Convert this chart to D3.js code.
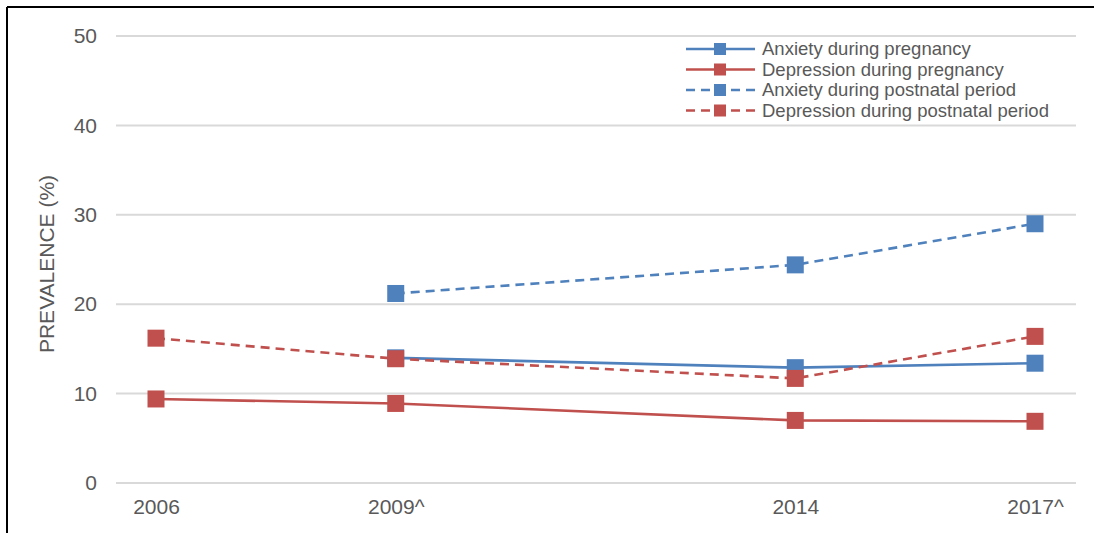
<!DOCTYPE html>
<html>
<head>
<meta charset="utf-8">
<script src="https://cdn.jsdelivr.net/npm/d3@7"></script>
<style>
  html, body { margin: 0; padding: 0; background: #fff; }
  svg { display: block; font-family: "Liberation Sans", Arial, sans-serif; }
</style>
</head>
<body>
<svg id="chart" width="1094" height="533"></svg>
<script>
// Survey years and prevalence (%) for each series
const years = [2006, 2009, 2014, 2017];
const yearLabels = ["2006", "2009^", "2014", "2017^"];
const anxietyPregnancy = [null, 14.0, 12.9, 13.4];
const depressionPregnancy = [9.4, 8.9, 7.0, 6.9];
const anxietyPostnatal = [null, 21.2, 24.4, 29.0];
const depressionPostnatal = [16.2, 13.9, 11.7, 16.4];
const yTicks = [0, 10, 20, 30, 40, 50];

const seriesNames = [
  "Anxiety during pregnancy",
  "Depression during pregnancy",
  "Anxiety during postnatal period",
  "Depression during postnatal period"
];

const BLUE = "#4F81BD", RED = "#C0504D";
const TEXT = "#595959";
const series = [
  { name: seriesNames[0], values: anxietyPregnancy, color: BLUE, dashed: false },
  { name: seriesNames[1], values: depressionPregnancy, color: RED, dashed: false },
  { name: seriesNames[2], values: anxietyPostnatal, color: BLUE, dashed: true },
  { name: seriesNames[3], values: depressionPostnatal, color: RED, dashed: true }
];

const svg = d3.select("#chart");

// Frame lines along the top and left edges
svg.append("line").attr("x1", 7).attr("x2", 1094).attr("y1", 7).attr("y2", 7)
  .attr("stroke", "#000").attr("stroke-width", 2);
svg.append("line").attr("x1", 7).attr("x2", 7).attr("y1", 7).attr("y2", 533)
  .attr("stroke", "#000").attr("stroke-width", 2);

const x = d3.scaleLinear().domain([2006, 2017]).range([156, 1035]);
const y = d3.scaleLinear().domain([0, 50]).range([483, 36]);
const gridLeft = 116, gridRight = 1076;

// Horizontal gridlines
svg.append("g").selectAll("line").data(yTicks).join("line")
  .attr("x1", gridLeft).attr("x2", gridRight)
  .attr("y1", d => y(d)).attr("y2", d => y(d))
  .attr("stroke", "#D9D9D9").attr("stroke-width", 2);

// Y axis tick labels
const yAxis = d3.axisLeft(y).tickValues(yTicks).tickSize(0).tickPadding(0);
svg.append("g").attr("transform", "translate(97,0)").call(yAxis)
  .call(g => g.select(".domain").remove())
  .call(g => g.selectAll("text").attr("fill", TEXT)
    .style("font-size", "21px").style("font-family", "Liberation Sans, Arial, sans-serif"));

// X axis tick labels
const xAxis = d3.axisBottom(x).tickValues(years).tickSize(0).tickPadding(0)
  .tickFormat((d, i) => yearLabels[i]);
svg.append("g").attr("transform", "translate(0,499)").call(xAxis)
  .call(g => g.select(".domain").remove())
  .call(g => g.selectAll("text").attr("fill", TEXT)
    .style("font-size", "21px").style("font-family", "Liberation Sans, Arial, sans-serif"));

// Y axis title
svg.append("text")
  .attr("transform", `translate(54,${y(24.5)}) rotate(-90)`)
  .attr("text-anchor", "middle")
  .attr("fill", TEXT)
  .style("font-size", "21px")
  .text("PREVALENCE (%)");

// Lines and square markers
const line = d3.line()
  .defined(d => d.v !== null)
  .x(d => x(d.year))
  .y(d => y(d.v));

const markerSize = 17;
series.forEach(s => {
  const pts = years.map((yr, i) => ({ year: yr, v: s.values[i] }));
  svg.append("path")
    .datum(pts)
    .attr("d", line)
    .attr("fill", "none")
    .attr("stroke", s.color)
    .attr("stroke-width", 2.6)
    .attr("stroke-dasharray", s.dashed ? "9,6" : null);
  svg.append("g").selectAll("rect")
    .data(pts.filter(p => p.v !== null))
    .join("rect")
    .attr("x", p => x(p.year) - markerSize / 2)
    .attr("y", p => y(p.v) - markerSize / 2)
    .attr("width", markerSize)
    .attr("height", markerSize)
    .attr("fill", s.color);
});

// Legend
const legend = svg.append("g").attr("transform", "translate(686,49)");
const rowH = 20.5;
series.forEach((s, i) => {
  const g = legend.append("g").attr("transform", `translate(0,${i * rowH})`);
  g.append("line").attr("x1", 0).attr("x2", 69).attr("y1", 0).attr("y2", 0)
    .attr("stroke", s.color).attr("stroke-width", 2.6)
    .attr("stroke-dasharray", s.dashed ? "9,6" : null);
  g.append("rect").attr("x", 34 - 6).attr("y", -6).attr("width", 12).attr("height", 12)
    .attr("fill", s.color);
  g.append("text").attr("x", 76).attr("y", 0).attr("dy", "0.35em")
    .attr("fill", TEXT).style("font-size", "18.5px").text(s.name);
});
</script>
</body>
</html>
